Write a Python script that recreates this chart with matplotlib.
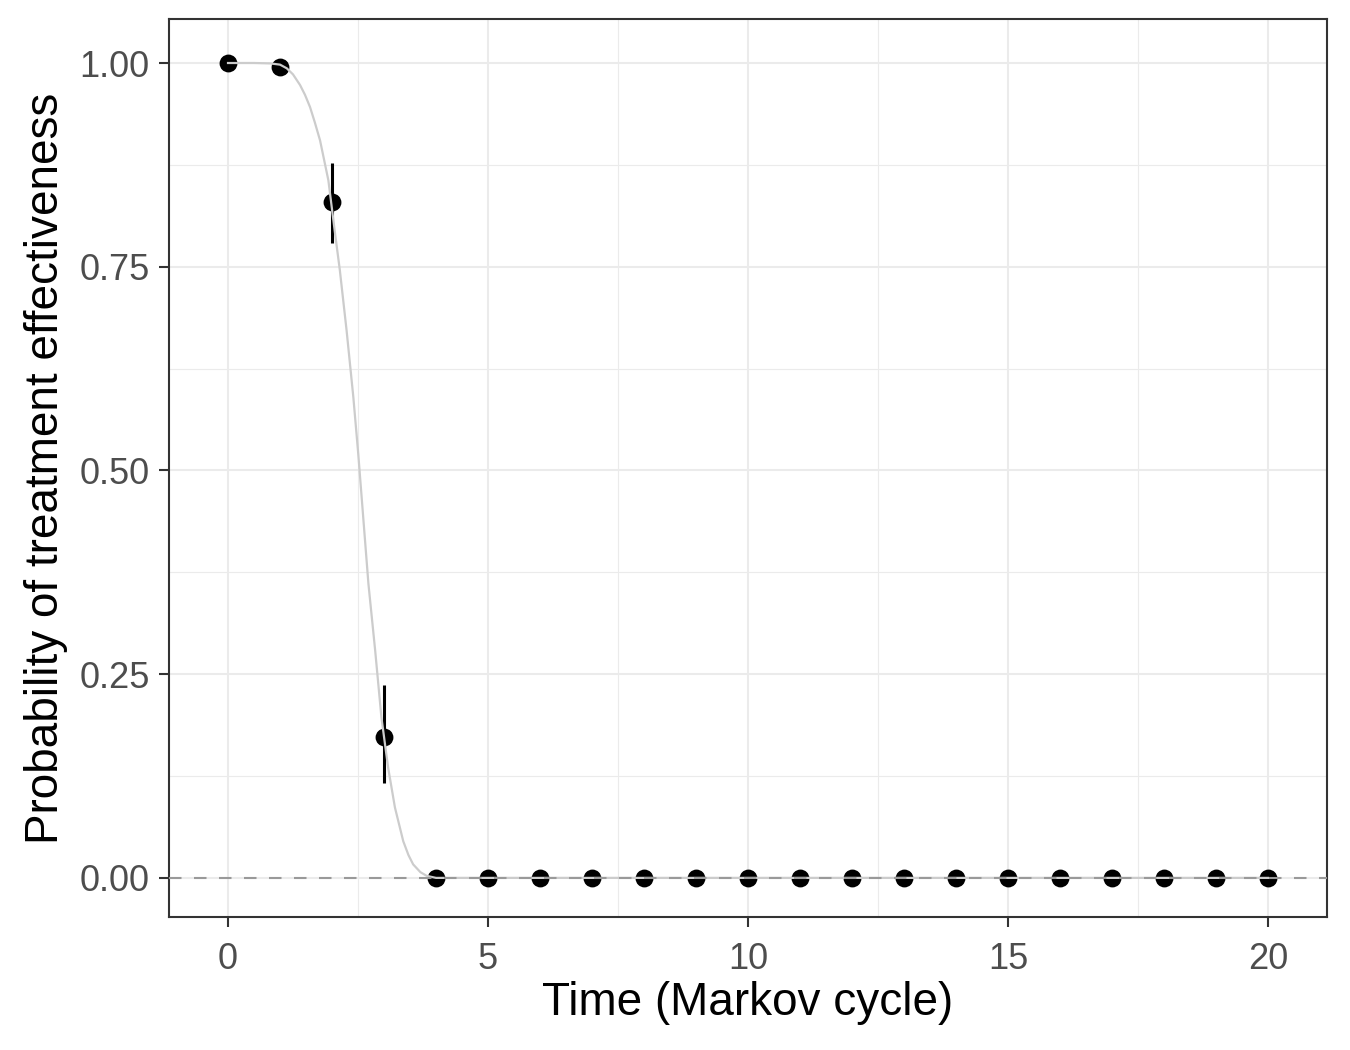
import numpy as np
import matplotlib.pyplot as plt

plt.rcParams["font.family"] = ["Liberation Sans", "DejaVu Sans"]

# observed probabilities per Markov cycle
cycle = list(range(21))
prob = [1.0, 0.9955, 0.830, 0.1725] + [0.0] * 17
ci_low = [1.0, 0.9955, 0.779, 0.117] + [0.0] * 17
ci_high = [1.0, 0.9955, 0.877, 0.237] + [0.0] * 17

# fitted curve
curve_x = [0.0, 0.5, 0.81, 1.0, 1.13, 1.25, 1.385, 1.48, 1.577, 1.67, 1.77,
           1.93, 2.05, 2.15, 2.28, 2.41, 2.505, 2.60, 2.70, 2.83, 2.95, 3.08,
           3.21, 3.37, 3.47, 3.56, 3.7, 3.82, 4.0, 5.0, 10.0, 15.0, 20.0]
curve_y = [1.0, 1.0, 0.9995, 0.998, 0.9935, 0.986, 0.973, 0.961, 0.946, 0.927,
           0.905, 0.856, 0.795, 0.746, 0.672, 0.590, 0.520, 0.4426, 0.361,
           0.279, 0.197, 0.135, 0.0864, 0.045, 0.028, 0.0166, 0.007, 0.0025,
           0.0, 0.0, 0.0, 0.0, 0.0]

x_ticks = [0, 5, 10, 15, 20]
y_ticks = [0.0, 0.25, 0.50, 0.75, 1.00]

fig = plt.figure(figsize=(13.5, 10.5), dpi=100)
ax = fig.add_axes([169 / 1350, 1 - 917 / 1050, (1327 - 169) / 1350, (917 - 19) / 1050])

ax.set_xlim(-1.135, 21.135)
ax.set_ylim(-0.048, 1.054)

ax.set_xticks([2.5, 7.5, 12.5, 17.5], minor=True)
ax.set_yticks([0.125, 0.375, 0.625, 0.875], minor=True)
ax.set_xticks(x_ticks)
ax.set_yticks(y_ticks)
ax.set_xticklabels([str(v) for v in x_ticks])
ax.set_yticklabels([f"{v:.2f}" for v in y_ticks])
ax.grid(which="major", color="#EBEBEB", lw=1.5)
ax.grid(which="minor", color="#EBEBEB", lw=0.8)
ax.set_axisbelow(True)

ax.scatter(cycle, prob, s=165, color="black", zorder=3, linewidths=0)
err = np.array([np.array(prob) - np.array(ci_low), np.array(ci_high) - np.array(prob)])
ax.errorbar(cycle, prob, yerr=err, fmt="none", ecolor="black", elinewidth=2.2,
            capsize=0, zorder=3)
ax.plot(curve_x, curve_y, color="#CCCCCC", lw=1.6, zorder=4)
ax.axhline(0, color="#999999", lw=1.5, ls=(0, (6, 6)), zorder=5)

for s in ax.spines.values():
    s.set_color("#333333")
    s.set_linewidth(1.5)
ax.tick_params(which="major", length=7, width=1.5, color="#333333",
               labelsize=26, labelcolor="#4D4D4D")
ax.tick_params(axis="x", which="major", pad=11)
ax.tick_params(axis="y", which="major", pad=7)
ax.tick_params(which="minor", length=0)

ax.set_xlabel("Time (Markov cycle)", fontsize=33, labelpad=3)
ax.set_ylabel("Probability of treatment effectiveness", fontsize=33, labelpad=8)

fig.savefig("out.png", dpi=100)
